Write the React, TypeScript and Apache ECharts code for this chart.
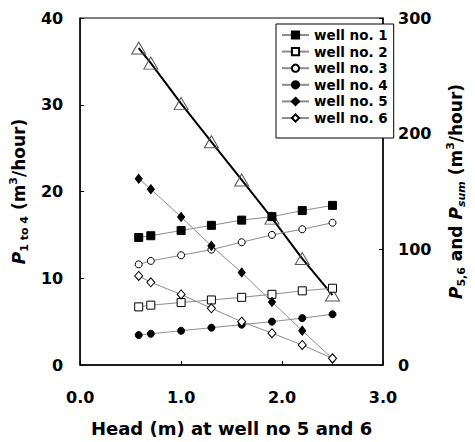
import React, { useEffect, useRef } from "react";
import * as echarts from "echarts";

const headValues = [0.58, 0.7, 1.0, 1.3, 1.6, 1.9, 2.2, 2.5];
const well1 = [14.7, 14.9, 15.5, 16.1, 16.7, 17.1, 17.8, 18.4];
const well2 = [6.7, 6.9, 7.2, 7.5, 7.8, 8.15, 8.55, 8.85];
const well3 = [11.6, 12.0, 12.65, 13.3, 14.15, 15.0, 15.65, 16.4];
const well4 = [3.45, 3.6, 3.95, 4.3, 4.65, 5.0, 5.4, 5.85];
const well5 = [161, 152, 128, 103, 80, 54.5, 29.7, 5.5];
const well6 = [77, 71.5, 61, 49, 37.5, 27.5, 17.3, 5.8];
const pSum = [274, 261, 226, 193, 160, 127, 92, 60.5];
const wellNames = ["well no. 1", "well no. 2", "well no. 3", "well no. 4", "well no. 5", "well no. 6"];

const FONT = "DejaVu Sans, Arial, sans-serif";

const pairs = (ys: number[]) => headValues.map((x, i) => [x, ys[i]]);

const nameRich = {
  n: { fontFamily: FONT, fontWeight: "bold", fontSize: 17, lineHeight: 22, color: "#000" },
  p: { fontFamily: FONT, fontWeight: "bold", fontStyle: "italic", fontSize: 17, lineHeight: 22, color: "#000" },
  sub: { fontFamily: FONT, fontWeight: "bold", fontSize: 11, lineHeight: 11, verticalAlign: "bottom", color: "#000" },
  subi: { fontFamily: FONT, fontWeight: "bold", fontStyle: "italic", fontSize: 11, lineHeight: 11, verticalAlign: "bottom", color: "#000" },
  sup: { fontFamily: FONT, fontWeight: "bold", fontSize: 11, lineHeight: 11, verticalAlign: "top", color: "#000" },
};

export default function App() {
  const ref = useRef<HTMLDivElement>(null);
  useEffect(() => {
    if (!ref.current) return;
    const chart = echarts.init(ref.current, undefined, { renderer: "svg" });
    const thin = { color: "#8c8c8c", width: 1 };
    const mk = (
      name: string,
      ys: number[],
      yAxisIndex: number,
      symbol: string,
      size: any,
      fill: string
    ) => ({
      name,
      type: "line",
      yAxisIndex,
      data: pairs(ys),
      symbol,
      symbolSize: size,
      showSymbol: true,
      lineStyle: thin,
      itemStyle: { color: fill, borderColor: "#000", borderWidth: 1 },
      z: 3,
    });
    chart.setOption({
      animation: false,
      backgroundColor: "#fff",
      grid: {
        left: 77,
        right: 72,
        top: 18,
        bottom: 77,
        show: true,
        borderColor: "#000",
        borderWidth: 1,
        backgroundColor: "transparent",
      },
      legend: {
        data: wellNames,
        orient: "vertical",
        left: 276,
        top: 24,
        padding: [4, 6, 13, 5],
        itemWidth: 27,
        itemHeight: 9,
        itemGap: 2.6,
        backgroundColor: "#fff",
        borderColor: "#000",
        borderWidth: 1,
        textStyle: { fontFamily: FONT, fontWeight: "bold", fontSize: 13.5, lineHeight: 14, color: "#000" },
      },
      xAxis: {
        type: "value",
        min: 0,
        max: 3,
        interval: 1,
        splitLine: { show: false },
        axisLine: { lineStyle: { color: "#000", width: 1.5 } },
        axisTick: { inside: true, length: 4, lineStyle: { color: "#000" } },
        axisLabel: {
          margin: 24,
          formatter: (v: number) => v.toFixed(1),
          fontFamily: FONT,
          fontWeight: "bold",
          fontSize: 16,
          color: "#000",
        },
        name: "Head (m) at well no 5 and 6",
        nameLocation: "middle",
        nameGap: 54,
        nameTextStyle: { fontFamily: FONT, fontWeight: "bold", fontSize: 18, color: "#000" },
      },
      yAxis: [
        {
          type: "value",
          min: 0,
          max: 40,
          interval: 10,
          position: "left",
          splitLine: { show: false },
          axisLine: { show: true, lineStyle: { color: "#000", width: 1.5 } },
          axisTick: { show: true, inside: true, length: 4, lineStyle: { color: "#000" } },
          axisLabel: { margin: 17, fontFamily: FONT, fontWeight: "bold", fontSize: 16, color: "#000" },
          name: "{p|P}{sub|1 to 4}{n| (m}{sup|3}{n|/hour)}",
          nameLocation: "middle",
          nameGap: 45,
          nameTextStyle: { rich: nameRich },
        },
        {
          type: "value",
          min: 0,
          max: 300,
          interval: 100,
          position: "right",
          splitLine: { show: false },
          axisLine: { show: true, lineStyle: { color: "#000", width: 1.5 } },
          axisTick: { show: true, inside: true, length: 4, lineStyle: { color: "#000" } },
          axisLabel: { margin: 15, fontFamily: FONT, fontWeight: "bold", fontSize: 16, color: "#000" },
          name: "{p|P}{sub|5,6}{n| and }{p|P}{subi|sum}{n| (m}{sup|3}{n|/hour)}",
          nameLocation: "middle",
          nameGap: 62,
          nameTextStyle: { rich: nameRich },
        },
      ],
      series: [
        {
          name: "P sum",
          type: "line",
          yAxisIndex: 1,
          data: pairs(pSum),
          symbol: "triangle",
          symbolSize: [14, 12],
          lineStyle: { color: "#000", width: 2 },
          itemStyle: { color: "rgba(255,255,255,0)", borderColor: "#555", borderWidth: 1 },
          z: 2,
        },
        mk(wellNames[0], well1, 0, "rect", 8, "#000"),
        mk(wellNames[1], well2, 0, "rect", 8, "#fff"),
        mk(wellNames[2], well3, 0, "circle", 7, "#fff"),
        mk(wellNames[3], well4, 0, "circle", 7, "#000"),
        mk(wellNames[4], well5, 1, "diamond", [7, 9], "#000"),
        mk(wellNames[5], well6, 1, "diamond", [8, 9], "#fff"),
      ],
    });
    return () => chart.dispose();
  }, []);
  return (
    <div
      ref={ref}
      style={{ position: "fixed", left: 0, top: 0, width: 475, height: 442, background: "#fff" }}
    />
  );
}
